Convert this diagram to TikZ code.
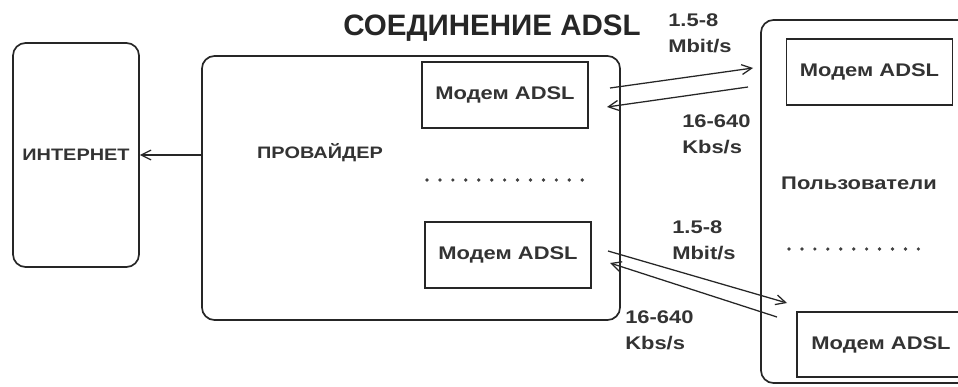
\documentclass[tikz,border=0pt]{standalone}
\usepackage{fontspec}
\setmainfont{Liberation Sans}
\newfontfamily\wide[FakeStretch=1.2]{Liberation Sans}
\usepackage{tikz}
\usetikzlibrary{arrows.meta,positioning,calc}

\begin{document}
\begin{tikzpicture}[
  x=0.025cm, y=-0.025cm,
  txt/.style={text=black!80, font=\wide\bfseries\fontsize{13}{19}\selectfont},
  smalltxt/.style={text=black!80, font=\wide\bfseries\fontsize{11.8}{16}\selectfont},
  block/.style={draw=black!85, line width=1.2pt, rounded corners=9pt},
  modem/.style={draw=black!85, line width=1.2pt, rectangle, txt, minimum width=4.15cm, minimum height=1.65cm},
  rate/.style={txt, align=left, anchor=north west, inner sep=0pt},
  ptr/.style={-{Straight Barb[length=7pt,width=7pt]}, line width=0.9pt, draw=black!85},
  dotline/.style={line width=2.6pt, line cap=round, dash pattern=on 0pt off 9.2pt, draw=black!75}
]
\useasboundingbox (0,0) rectangle (958,387);
\clip (0,0) rectangle (958,387);
\fill[white] (0,0) rectangle (958,387);

% title
\node[text=black!85, font=\bfseries\fontsize{21}{25}\selectfont] (title) at (492,28) {СОЕДИНЕНИЕ ADSL};

% internet and provider
\node[block, smalltxt, minimum width=3.15cm, minimum height=5.6cm] (inet) at (76,155) {ИНТЕРНЕТ};
\node[block, minimum width=10.45cm, minimum height=6.6cm] (prov) at (411,188) {};
\node[smalltxt] (provlbl) at (320,153) {ПРОВАЙДЕР};
\node[modem] (pm1) at (505,95) {Модем ADSL};
\node[modem] (pm2) at (508,255) {Модем ADSL};
\draw[dotline] (427,180) -- (583,180);
\draw[ptr] (prov.west |- inet.east) -- (inet.east);

% users
\node[block, minimum width=5.35cm, minimum height=9.075cm] (users) at (868,201.5) {};
\node[modem] (um1) at (869.5,72) {Модем ADSL};
\node[txt] (userlbl) at (859,183) {Пользователи};
\node[modem, minimum width=4.2cm, minimum height=1.625cm] (um2) at (881,344.5) {Модем ADSL};
\draw[dotline] (789,249) -- (927,249);

% links
\coordinate (up1s) at (610,88);
\coordinate (up1e) at (753,68);
\coordinate (dn1s) at (748,87);
\coordinate (dn1e) at (607,107);
\coordinate (up2s) at (608,251);
\coordinate (up2e) at (787,303);
\coordinate (dn2s) at (777,317);
\coordinate (dn2e) at (610,263);
\draw[ptr] (up1s) -- (up1e);
\draw[ptr] (dn1s) -- (dn1e);
\draw[ptr] (up2s) -- (up2e);
\draw[ptr] (dn2s) -- (dn2e);

% rates
\node[rate] (r1) at (668,13) {1.5-8\\Mbit/s};
\node[rate] (r2) at (682,114) {16-640\\Kbs/s};
\node[rate] (r3) at (672,220) {1.5-8\\Mbit/s};
\node[rate] (r4) at (625,310) {16-640\\Kbs/s};
\end{tikzpicture}
\end{document}
